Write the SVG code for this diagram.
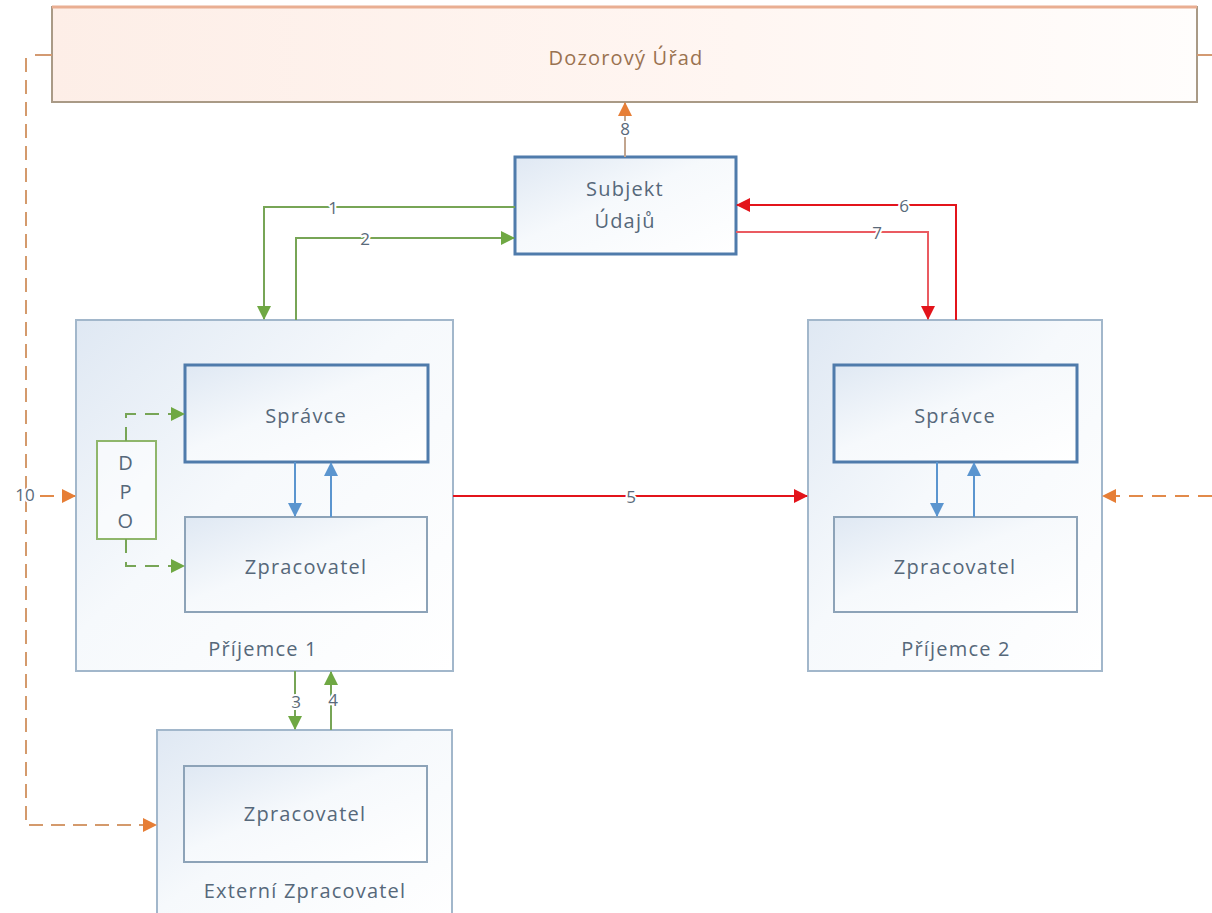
<svg xmlns="http://www.w3.org/2000/svg" width="1212" height="913" viewBox="0 0 1212 913">
<defs>
<linearGradient id="gBlue" x1="0" y1="0" x2="1" y2="1">
<stop offset="0" stop-color="#dfe8f3"/>
<stop offset="0.45" stop-color="#f6f9fc"/>
<stop offset="1" stop-color="#ffffff"/>
</linearGradient>
<linearGradient id="gPeach" x1="0" y1="0" x2="1" y2="0">
<stop offset="0" stop-color="#fdeee7"/>
<stop offset="0.6" stop-color="#fff6f2"/>
<stop offset="1" stop-color="#fffdfc"/>
</linearGradient>
<marker id="aG" viewBox="0 0 14 14" markerWidth="14" markerHeight="14" refX="13" refY="7" orient="auto" markerUnits="userSpaceOnUse"><path d="M0 0 L14 7 L0 14 Z" fill="#6fa843"/></marker>
<marker id="aR" viewBox="0 0 14 14" markerWidth="14" markerHeight="14" refX="13" refY="7" orient="auto" markerUnits="userSpaceOnUse"><path d="M0 0 L14 7 L0 14 Z" fill="#e3141b"/></marker>
<marker id="aB" viewBox="0 0 14 14" markerWidth="14" markerHeight="14" refX="13" refY="7" orient="auto" markerUnits="userSpaceOnUse"><path d="M0 0 L14 7 L0 14 Z" fill="#5b95cf"/></marker>
<marker id="aO" viewBox="0 0 14 14" markerWidth="14" markerHeight="14" refX="13" refY="7" orient="auto" markerUnits="userSpaceOnUse"><path d="M0 0 L14 7 L0 14 Z" fill="#e67e36"/></marker>
</defs>
<style>
text{font-family:"Open Sans","DejaVu Sans",sans-serif;font-size:20px;fill:#56687a;text-anchor:middle;dominant-baseline:central;letter-spacing:1.2px}
.num{font-size:17px;letter-spacing:0;stroke:#ffffff;stroke-width:4px;paint-order:stroke;fill:#5a6a7a}
.outer{fill:url(#gBlue);stroke:#a2b7cb;stroke-width:2}
.strong{fill:url(#gBlue);stroke:#4f7bab;stroke-width:3}
.inner{fill:url(#gBlue);stroke:#8da3b8;stroke-width:2}
.g{fill:none;stroke:#77a556;stroke-width:2}
.r{fill:none;stroke:#e3141b;stroke-width:2}
.b{fill:none;stroke:#5b95cf;stroke-width:2}
.o{fill:none;stroke:#e28a4a;stroke-width:2}
.dash{stroke-dasharray:14 9}
</style>

<g id="dozorovy-urad">
<rect x="52" y="7" width="1145" height="95" fill="url(#gPeach)" stroke="#a99a86" stroke-width="2"/>
<line x1="52" y1="7" x2="1197" y2="7" stroke="#e9ae92" stroke-width="3"/>
<text x="626" y="57" style="fill:#9a7250">Dozorový Úřad</text>
</g>

<g id="subjekt-udaju">
<rect x="515" y="157" width="221" height="97" class="strong"/>
<text x="625" y="188">Subjekt</text>
<text x="625" y="220">Údajů</text>
</g>

<g id="prijemce-1">
<rect x="76" y="320" width="377" height="351" class="outer"/>
<text x="263" y="648">Příjemce 1</text>
</g>
<g id="spravce-1">
<rect x="185" y="365" width="243" height="97" class="strong"/>
<text x="306" y="415">Správce</text>
</g>
<g id="zpracovatel-1">
<rect x="185" y="517" width="242" height="95" class="inner"/>
<text x="306" y="566">Zpracovatel</text>
</g>
<g id="dpo">
<rect x="97" y="441" width="59" height="98" fill="#ffffff" fill-opacity="0.6" stroke="#8fb66b" stroke-width="2"/>
<text x="126" y="462">D</text>
<text x="126" y="491">P</text>
<text x="126" y="520">O</text>
</g>

<g id="prijemce-2">
<rect x="808" y="320" width="294" height="351" class="outer"/>
<text x="956" y="648">Příjemce 2</text>
</g>
<g id="spravce-2">
<rect x="834" y="365" width="243" height="97" class="strong"/>
<text x="955" y="415">Správce</text>
</g>
<g id="zpracovatel-2">
<rect x="834" y="517" width="243" height="95" class="inner"/>
<text x="955" y="566">Zpracovatel</text>
</g>

<g id="externi-zpracovatel">
<rect x="157" y="730" width="295" height="200" class="outer"/>
<text x="305" y="890">Externí Zpracovatel</text>
</g>
<g id="zpracovatel-ext">
<rect x="184" y="766" width="243" height="96" class="inner"/>
<text x="305" y="813">Zpracovatel</text>
</g>

<g id="connectors">
<path d="M515 207 H264 V319" class="g" marker-end="url(#aG)"/>
<text x="333" y="207" class="num">1</text>
<path d="M296 320 V238 H514" class="g" marker-end="url(#aG)"/>
<text x="365" y="238" class="num">2</text>
<path d="M625 157 V103" fill="none" stroke="#c2a58e" stroke-width="2" marker-end="url(#aO)"/>
<text x="625" y="128" class="num">8</text>
<path d="M956 320 V205 H737" class="r" marker-end="url(#aR)"/>
<text x="904" y="205" class="num">6</text>
<path d="M736 232 H928 V319" fill="none" stroke="#ea5b61" stroke-width="2" marker-end="url(#aR)"/>
<text x="877" y="232" class="num">7</text>
<path d="M453 496 H807" class="r" marker-end="url(#aR)"/>
<text x="631" y="496" class="num">5</text>
<path d="M295 462 V516" class="b" marker-end="url(#aB)"/>
<path d="M331 517 V463" class="b" marker-end="url(#aB)"/>
<path d="M937 462 V516" class="b" marker-end="url(#aB)"/>
<path d="M974 517 V463" class="b" marker-end="url(#aB)"/>
<path d="M126 441 V414 H184" class="g dash" marker-end="url(#aG)"/>
<path d="M126 539 V566 H184" class="g dash" marker-end="url(#aG)"/>
<path d="M295 671 V729" class="g" marker-end="url(#aG)"/>
<text x="296" y="701" class="num">3</text>
<path d="M331 730 V672" class="g" marker-end="url(#aG)"/>
<text x="333" y="699" class="num">4</text>
<line x1="35" y1="55" x2="52" y2="55" stroke="#d39a72" stroke-width="2"/>
<line x1="1197" y1="55" x2="1212" y2="55" stroke="#d39a72" stroke-width="2"/>
<path d="M26 58 V825 H156" fill="none" stroke="#d49a6c" stroke-width="2" stroke-dasharray="14 8" marker-end="url(#aO)"/>
<path d="M40 496 H75" class="o dash" marker-end="url(#aO)"/>
<text x="25" y="494" class="num">10</text>
<path d="M1212 496 H1103" class="o dash" marker-end="url(#aO)"/>
</g>
</svg>
